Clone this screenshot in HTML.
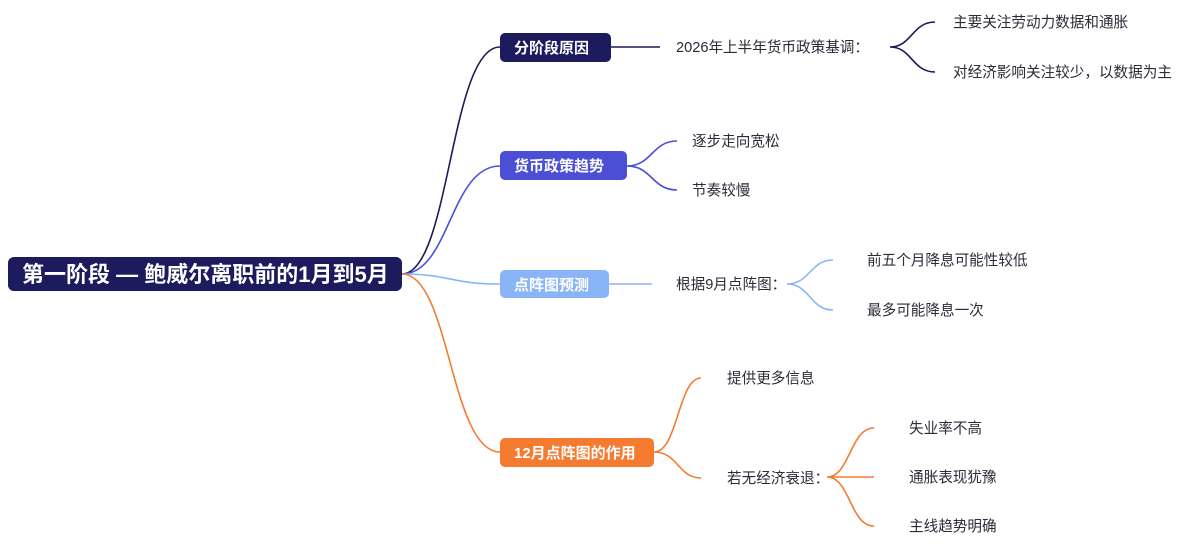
<!DOCTYPE html>
<html><head><meta charset="utf-8"><style>
html,body{margin:0;padding:0;background:#fff;}
svg{display:block}
text{font-family:"Liberation Sans","Noto Sans CJK SC",sans-serif;}
.c{font-size:14.6px;fill:#2b2b3a;}
.b{font-size:15px;font-weight:bold;fill:#fff;}
</style></head><body>
<svg width="1199" height="549" viewBox="0 0 1199 549" xmlns="http://www.w3.org/2000/svg">
<g fill="none" stroke-width="1.6">
<path d="M402,274 C450,274 450,47 500,47" stroke="#1b1b55"/>
<path d="M402,274 C450,274 450,166 500,166" stroke="#4a4fd6"/>
<path d="M402,274 C450,274 450,284 500,284" stroke="#8ab4f8"/>
<path d="M402,274 C450,274 450,452 500,452" stroke="#f47b30"/>
<path d="M611,47 L660,47" stroke="#1b1b55"/>
<path d="M890,47 C912,47 912,22 935,22 M890,47 C912,47 912,72 935,72" stroke="#1b1b55"/>
<path d="M627,166 C652,166 652,141 677,141 M627,166 C652,166 652,190 677,190" stroke="#4a4fd6"/>
<path d="M609,284 L652,284" stroke="#8ab4f8"/>
<path d="M787,284 C810,284 810,260 833,260 M787,284 C810,284 810,310 833,310" stroke="#8ab4f8"/>
<path d="M654,452 C678,452 678,378 701,378 M654,452 C678,452 678,478 701,478" stroke="#f47b30"/>
<path d="M827,477 C850,477 850,428 874,428 M827,477 L874,477 M827,477 C850,477 850,526 874,526" stroke="#f47b30"/>
</g>
<rect x="8" y="257" width="394" height="34" rx="6" fill="#1b1b5e"/>
<text x="22" y="282" font-size="22" font-weight="bold" fill="#fff">第一阶段 — 鲍威尔离职前的1月到5月</text>
<rect x="500" y="33" width="111" height="29" rx="5" fill="#1b1b5e"/>
<text class="b" x="514" y="53">分阶段原因</text>
<rect x="500" y="151" width="127" height="29" rx="5" fill="#4a4fd6"/>
<text class="b" x="514" y="171">货币政策趋势</text>
<rect x="500" y="270" width="109" height="28" rx="5" fill="#8ab4f8"/>
<text class="b" x="514" y="290">点阵图预测</text>
<rect x="500" y="438" width="154" height="29" rx="5" fill="#f47b30"/>
<text class="b" x="514" y="458">12月点阵图的作用</text>
<text class="c" x="676" y="52">2026年上半年货币政策基调：</text>
<text class="c" x="953" y="27">主要关注劳动力数据和通胀</text>
<text class="c" x="953" y="77">对经济影响关注较少，以数据为主</text>
<text class="c" x="692" y="146">逐步走向宽松</text>
<text class="c" x="692" y="195">节奏较慢</text>
<text class="c" x="676" y="289">根据9月点阵图：</text>
<text class="c" x="867" y="265">前五个月降息可能性较低</text>
<text class="c" x="867" y="315">最多可能降息一次</text>
<text class="c" x="727" y="383">提供更多信息</text>
<text class="c" x="727" y="483">若无经济衰退：</text>
<text class="c" x="909" y="433">失业率不高</text>
<text class="c" x="909" y="482">通胀表现犹豫</text>
<text class="c" x="909" y="531">主线趋势明确</text>
</svg>
</body></html>
